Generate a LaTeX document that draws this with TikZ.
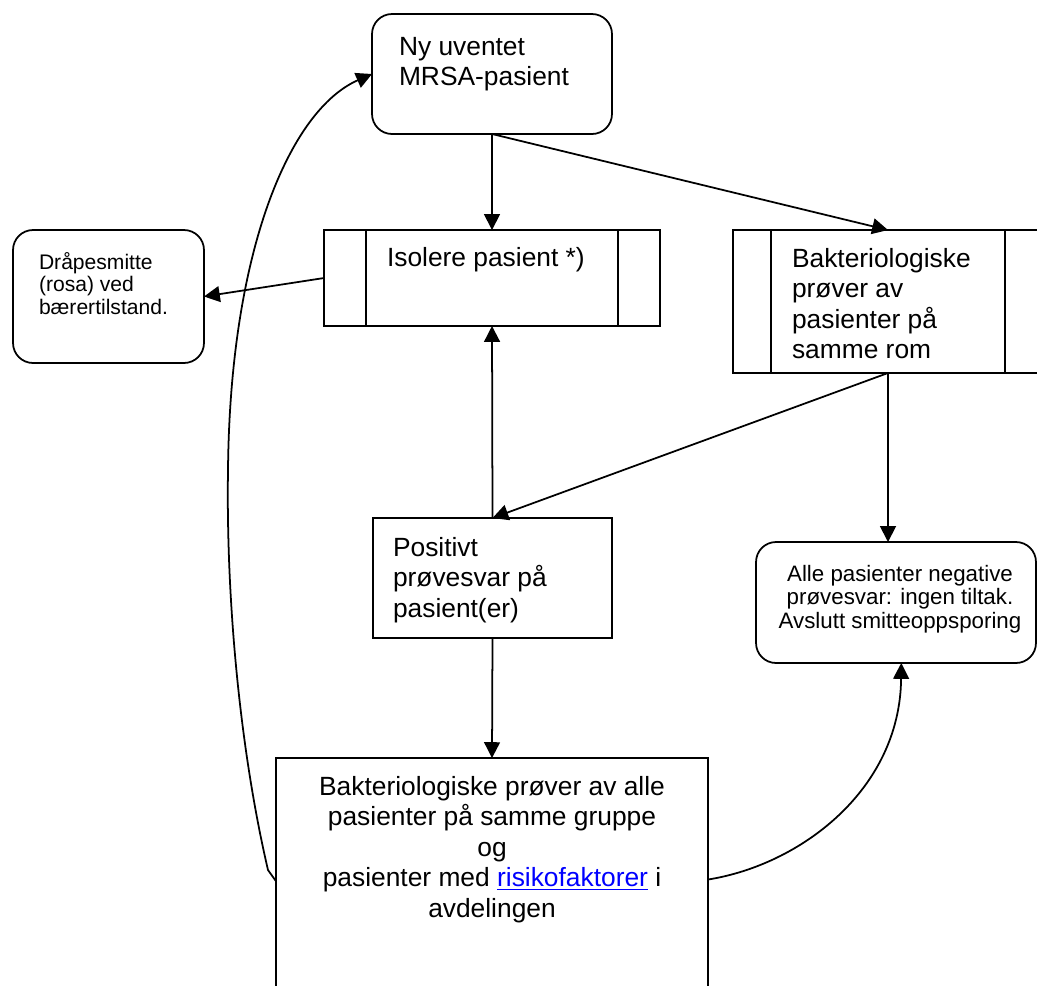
\documentclass[tikz,border=0pt]{standalone}
\usepackage{fontspec}
\setmainfont{Liberation Sans}
\usetikzlibrary{arrows.meta}
\definecolor{linkblue}{RGB}{0,0,255}
\newcommand{\bigtxt}{\fontsize{15}{17.4}\selectfont}
\newcommand{\smalltxt}{\fontsize{12}{13}\selectfont}
\newcommand{\alletxt}{\fontsize{12.7}{13.5}\selectfont}
\begin{document}
\begin{tikzpicture}[x=0.02cm,y=-0.02cm,line width=1pt]
\tikzstyle{every node}+=[inner sep=0pt,outer sep=0pt]
\tikzstyle{arr}=[-{Triangle[length=9pt,width=9pt]}]
\tikzstyle{sq}=[draw]
\tikzstyle{rnd}=[draw,rounded corners=0.4cm]
\tikzset{procbox/.style={draw,path picture={
  \draw ([xshift=#1]path picture bounding box.north west) -- ([xshift=#1]path picture bounding box.south west)
        ([xshift=-#1]path picture bounding box.north east) -- ([xshift=-#1]path picture bounding box.south east);}}}
\tikzstyle{txt}=[font=\bigtxt,align=left,anchor=north west]
\useasboundingbox (0,0) rectangle (1037,985);
% boxes
\node[rnd,minimum width=4.8cm,minimum height=2.4cm] (ny) at (492,74) {};
\node[procbox=0.84cm,minimum width=6.72cm,minimum height=1.92cm] (iso) at (492,278) {};
\node[rnd,minimum width=3.82cm,minimum height=2.66cm] (drap) at (108.5,296.5) {};
\node[procbox=0.76cm,minimum width=6.2cm,minimum height=2.86cm] (bakt) at (888,301.5) {};
\node[sq,minimum width=4.78cm,minimum height=2.4cm] (pos) at (492.5,578) {};
\node[rnd,minimum width=5.6cm,minimum height=2.42cm] (alle) at (896,602.5) {};
\node[sq,minimum width=8.64cm,minimum height=4.72cm] (alleb) at (492,876) {};
% texts
\node[txt] (nyt) at ([shift={(27,23)}]ny.north west) {Ny uventet\\MRSA-pasient};
\node[txt] (isot) at ([shift={(63,17)}]iso.north west) {Isolere pasient *)};
\node[txt,font=\smalltxt] (drapt) at ([shift={(26,22)}]drap.north west) {Dråpesmitte\\(rosa) ved\\bærertilstand.};
\node[txt] (baktt) at ([shift={(59,18)}]bakt.north west) {Bakteriologiske\\prøver av\\pasienter på\\samme rom};
\node[txt] (post) at ([shift={(20,19)}]pos.north west) {Positivt\\prøvesvar på\\pasient(er)};
\node[font=\alletxt,align=center,anchor=north] (allet) at ([shift={(4,23)}]alle.north)
  {Alle pasienter negative\\prøvesvar: ingen tiltak.\\Avslutt smitteoppsporing};
\node[font=\bigtxt,align=center,anchor=north] (allebt) at ([shift={(0,18)}]alleb.north)
  {Bakteriologiske prøver av alle\\pasienter på samme gruppe\\og\\pasienter med \textcolor{linkblue}{\underline{risikofaktorer}} i\\avdelingen};
% connectors
\draw[arr] (ny.south) -- (iso.north);
\draw[arr] (ny.south) -- (bakt.north);
\draw[arr] (iso.west) -- (drap.east);
\draw[arr] (pos.north) -- (iso.south);
\draw[arr] (bakt.south) -- (pos.north);
\draw[arr] (bakt.south) -- (bakt.south |- alle.north);
\draw[arr] (pos.south) -- (alleb.north);
\draw[arr] ([yshift=-3]alleb.west) -- (268,870) .. controls (240,750) and (226,600) .. (228,470)
  .. controls (230,250) and (290,110) .. (ny.west);
\draw[arr] ([yshift=-2]alleb.east) .. controls (800,865) and (900,790) .. ([xshift=3]alle.south);
\end{tikzpicture}
\end{document}
